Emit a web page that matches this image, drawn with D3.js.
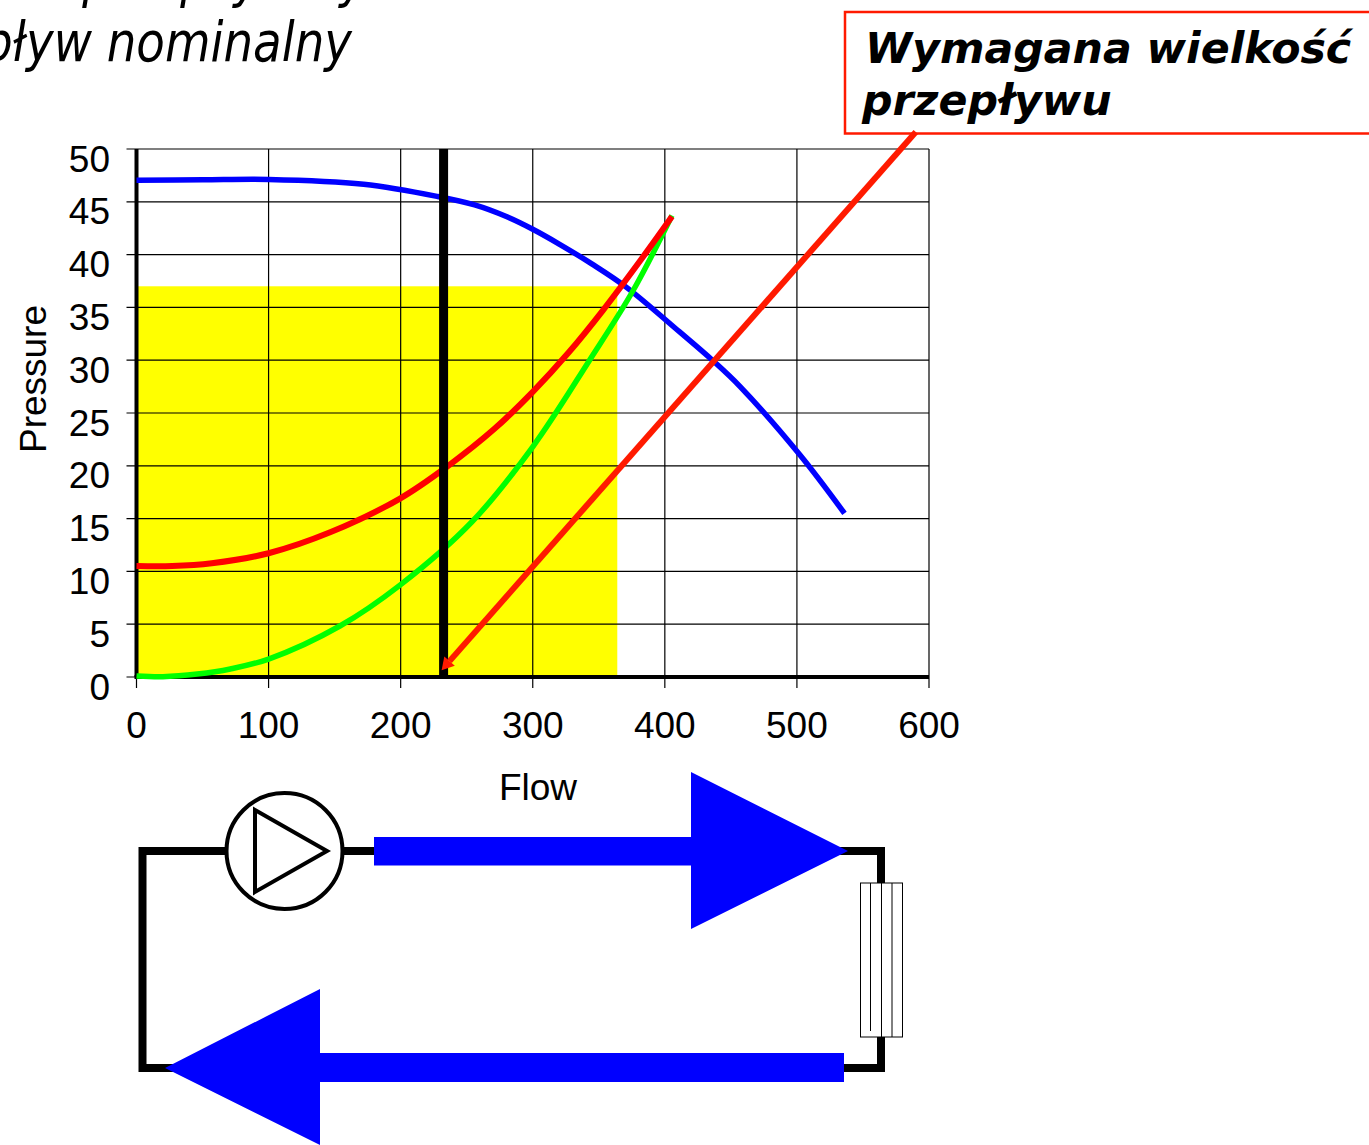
<!DOCTYPE html>
<html><head><meta charset="utf-8">
<style>html,body{margin:0;padding:0;background:#fff;overflow:hidden}svg{display:block}text{fill:#000}</style>
<script src="https://cdn.jsdelivr.net/npm/d3@7/dist/d3.min.js"></script></head>
<body><svg id="c" width="1369" height="1145"></svg>
<script>
const xTicks=[0,100,200,300,400,500,600];
const yTicks=[0,5,10,15,20,25,30,35,40,45,50];
const xLabel="Flow", yLabel="Pressure";
const pumpFlow=[0,50,100,172,228,256,280,300,320,345,371,411,436,457,502.5,536];
const pumpPressure=[47.03,47.08,47.12,46.66,45.5,44.7,43.6,42.4,41,39.1,36.9,32.7,30,27.5,21,15.5];
const redFlow=[0,27,57,100,146.6,199.5,236,271,300,327,353,383,405.4];
const redPressure=[10.5,10.5,10.77,11.72,13.7,16.9,20,23.5,27,30.7,34.7,39.7,43.6];
const greenFlow=[0,20,46,71,100,154,200,254,300,343,376,405.4];
const greenPressure=[0.1,0.03,0.28,0.76,1.7,4.83,8.75,14.7,21.8,30,36.6,43.7];
const areaFlow=364, areaPressure=37;
const nominalFlow=232.5;
const requiredLine=[[590,51.6],[231,0.65]];
const titleLine="przepływ nominalny";
const titleFragments=["p","p","y","y"];
const calloutLines=["Wymagana wielkość","przepływu"];

const svg=d3.select("#c");
const x=d3.scaleLinear().domain([0,600]).range([136.5,929]);
const y=d3.scaleLinear().domain([0,50]).range([677,149]);
const AR='"Liberation Sans",Arial,sans-serif';

// filled region
svg.append("rect").attr("x",x(0)).attr("y",y(areaPressure))
  .attr("width",x(areaFlow)-x(0)).attr("height",y(0)-y(areaPressure)).attr("fill","#ffff00");

// grid + ticks
const g=svg.append("g").attr("stroke","#000").attr("stroke-width",1.2);
g.selectAll(".gx").data(xTicks).join("line").attr("x1",d=>x(d)).attr("x2",d=>x(d)).attr("y1",y(50)).attr("y2",y(0)+11);
g.selectAll(".gy").data(yTicks).join("line").attr("y1",d=>y(d)).attr("y2",d=>y(d)).attr("x1",x(0)-10).attr("x2",x(600));

// axis lines
svg.append("line").attr("x1",x(0)).attr("x2",x(0)).attr("y1",y(50)).attr("y2",y(0)).attr("stroke","#000").attr("stroke-width",4);
svg.append("line").attr("x1",x(0)-2).attr("x2",x(600)).attr("y1",y(0)).attr("y2",y(0)).attr("stroke","#000").attr("stroke-width",4);

// tick labels
svg.selectAll(".tx").data(xTicks).join("text").attr("x",d=>x(d)).attr("y",738)
  .attr("text-anchor","middle").attr("font-family",AR).attr("font-size",37).text(d=>d);
svg.selectAll(".ty").data(yTicks).join("text").attr("x",110).attr("y",d=>y(d)+22.5)
  .attr("text-anchor","end").attr("font-family",AR).attr("font-size",37).text(d=>d);
svg.append("text").attr("x",538).attr("y",800).attr("text-anchor","middle").attr("font-family",AR).attr("font-size",37).text(xLabel);
svg.append("text").attr("transform","translate(46,379) rotate(-90)").attr("text-anchor","middle").attr("font-family",AR).attr("font-size",37).text(yLabel);

// curves
const line=d3.line().x(d=>x(d[0])).y(d=>y(d[1])).curve(d3.curveCatmullRom.alpha(0.5));
const curve=(fx,py,c,w)=>svg.append("path").attr("d",line(d3.zip(fx,py))).attr("fill","none").attr("stroke",c).attr("stroke-width",w);
curve(pumpFlow,pumpPressure,"#0000ff",5.5);
curve(greenFlow,greenPressure,"#00ff00",5.5);
curve(redFlow,redPressure,"#ff0000",6);

// nominal-flow bar
svg.append("line").attr("x1",x(nominalFlow)).attr("x2",x(nominalFlow)).attr("y1",y(50)).attr("y2",y(0)).attr("stroke","#000").attr("stroke-width",9);

// required-flow pointer with arrow head
const [p0,p1]=requiredLine.map(d=>[x(d[0]),y(d[1])]);
const ang=Math.atan2(p1[1]-p0[1],p1[0]-p0[0]);
const back=12, half=7;
const bx=p1[0]-back*Math.cos(ang), by=p1[1]-back*Math.sin(ang);
svg.append("line").attr("x1",p0[0]).attr("y1",p0[1]).attr("x2",bx).attr("y2",by).attr("stroke","#ff1a00").attr("stroke-width",6);
svg.append("path").attr("fill","#ff1a00").attr("d",d3.line()([p1,[bx-half*Math.sin(ang),by+half*Math.cos(ang)],[bx+half*Math.sin(ang),by-half*Math.cos(ang)]])+"Z");

// callout box
svg.append("rect").attr("x",845).attr("y",12).attr("width",560).attr("height",121.5).attr("fill","none").attr("stroke","#ff1a00").attr("stroke-width",2.5);
const DV='"DejaVu Sans",Verdana,sans-serif';
svg.selectAll(".cb").data(calloutLines).join("text").attr("x",(d,i)=>i?862:865).attr("y",(d,i)=>63+i*52)
  .attr("font-family",DV).attr("font-weight","bold").attr("font-style","italic").attr("font-size",42.7).text(d=>d);

// title
svg.append("text").attr("transform","translate(352,61) scale(0.85,1)").attr("text-anchor","end")
  .attr("font-family",DV).attr("font-style","italic").attr("font-size",55).text(titleLine);
const fragX=[97,195,247,353];
svg.selectAll(".tf").data(titleFragments).join("text").attr("transform",(d,i)=>`translate(${fragX[i]},-3) scale(0.85,1)`).attr("text-anchor","middle")
  .attr("font-family",DV).attr("font-style","italic").attr("font-size",55).text(d=>d);

// circuit
svg.append("path").attr("d","M142.5 1068V851H881V1068Z").attr("fill","none").attr("stroke","#000").attr("stroke-width",8);
svg.append("circle").attr("cx",284.5).attr("cy",851).attr("r",58).attr("fill","#fff").attr("stroke","#000").attr("stroke-width",4);
svg.append("path").attr("d","M255 810L327 851L255 892Z").attr("fill","#fff").attr("stroke","#000").attr("stroke-width",4);
svg.append("path").attr("fill","#0000ff").attr("d","M374 837H691V772L848 851L691 929V865.5H374Z");
svg.append("path").attr("fill","#0000ff").attr("d","M844 1053H320V989L165 1068L320 1145V1082H844Z");
svg.append("rect").attr("x",860.5).attr("y",883).attr("width",42).attr("height",154).attr("fill","#fff").attr("stroke","#000").attr("stroke-width",1);
svg.append("path").attr("d","M870.5 883V1031M881.5 883V1037M892 883V1037").attr("fill","none").attr("stroke","#000").attr("stroke-width",1);
</script></body></html>
